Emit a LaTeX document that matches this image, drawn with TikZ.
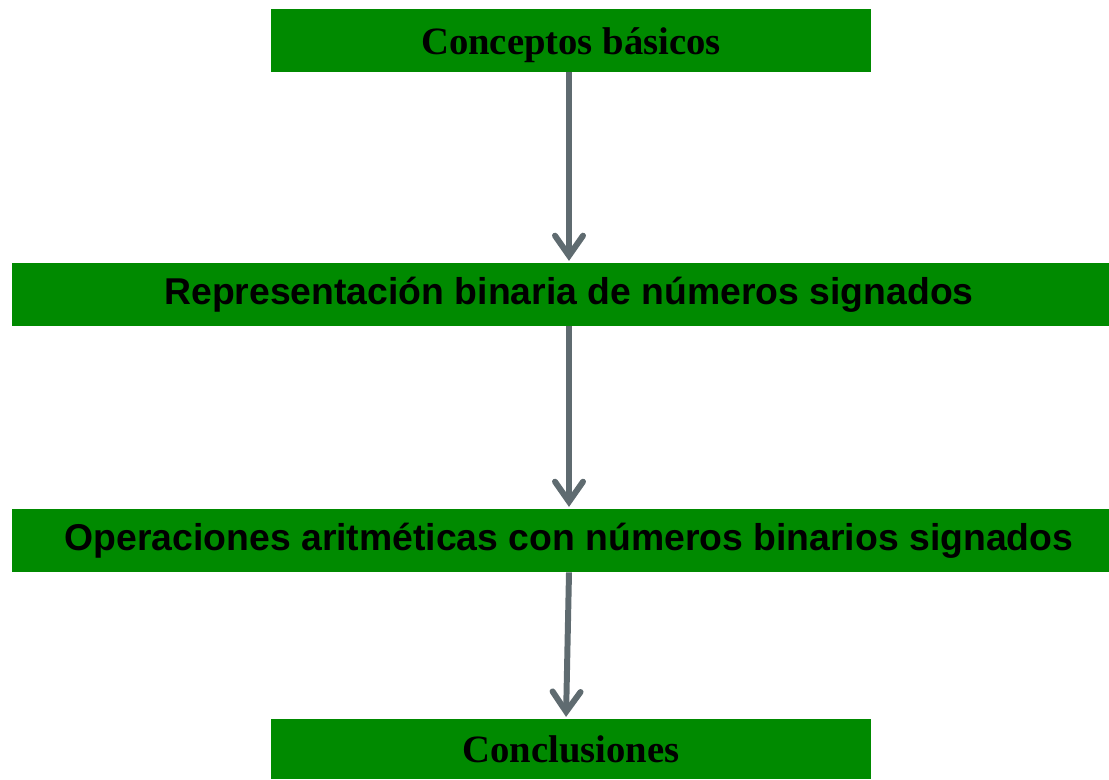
\documentclass[tikz,border=0pt]{standalone}
\usepackage{fontspec}
\setmainfont{Liberation Serif}
\setsansfont{Liberation Sans}
\usepackage{tikz}
\usetikzlibrary{arrows,arrows.meta,positioning}
\definecolor{boxgreen}{HTML}{008A00}
\definecolor{arrowgray}{HTML}{5F6B70}

\begin{document}
\begin{tikzpicture}[node distance=1cm, auto,
  topic/.style={fill=boxgreen, draw=none, inner sep=0pt, minimum height=1.26cm},
  sidetopic/.style={topic, minimum width=12cm, text height=0.6cm, text depth=0.05cm},
  flow/.style={draw=arrowgray, line width=3.4pt, -{Straight Barb[length=4mm, width=5.6mm, line cap=round]}, shorten >=1pt}]

\useasboundingbox (0,0) rectangle (22.18,-15.58);

\node[sidetopic] (basics) at (11.42,-0.81) {\fontsize{22}{26}\selectfont\textbf{Conceptos básicos}};
\node[topic, minimum width=22.28cm] (repr) at (11.38,-5.89) {\sffamily\fontsize{21.25}{25}\selectfont\textbf{Representación binaria de números signados}};
\node[topic, minimum width=22.28cm] (arith) at (11.38,-10.81) {\sffamily\fontsize{21.25}{25}\selectfont\textbf{Operaciones aritméticas con números binarios signados}};
\node[sidetopic, minimum height=1.2cm] (concl) at (11.42,-14.98) {\fontsize{22}{26}\selectfont\textbf{Conclusiones}};

\draw[flow] ([xshift=-0.04cm]basics.south) -- ([xshift=-0.04cm]basics.south |- repr.north);
\draw[flow] ([xshift=-0.04cm]basics.south |- repr.south) -- ([xshift=-0.04cm]basics.south |- arith.north);
\draw[flow] ([xshift=-0.04cm]basics.south |- arith.south) -- ([xshift=-0.1cm]concl.north);

\end{tikzpicture}
\end{document}
